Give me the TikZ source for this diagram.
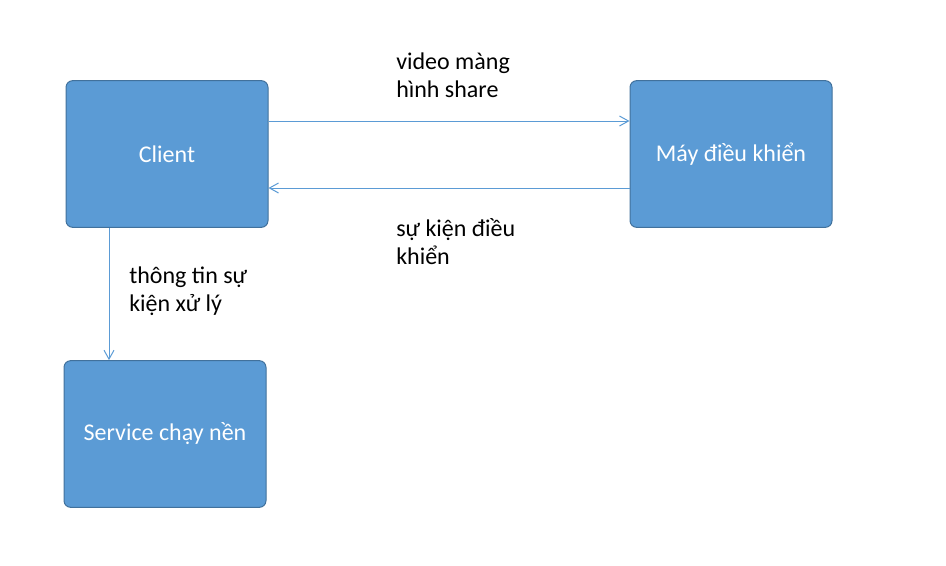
\documentclass[tikz,border=0pt]{standalone}
\usepackage{fontspec}
\setmainfont{Carlito}
\usetikzlibrary{arrows.meta}
\definecolor{boxfill}{HTML}{5B9BD5}
\definecolor{boxedge}{HTML}{41719C}
\definecolor{linkblue}{HTML}{5B9BD5}
\tikzset{
  box/.style={rectangle, rounded corners=5pt, fill=boxfill, draw=boxedge, line width=0.75pt,
    minimum width=151.5pt, minimum height=110pt, text=white, font=\fontsize{18}{21.5}\selectfont},
  flow/.style={draw=linkblue, line width=0.75pt, -{Straight Barb[length=6.75pt,width=7.5pt]}},
  note/.style={anchor=base west, inner sep=0pt, align=left, font=\fontsize{18}{20.5}\selectfont}
}
\begin{document}
\begin{tikzpicture}[x=0.75pt,y=-0.75pt]
\useasboundingbox (0,0) rectangle (946,565);

\node[box] (client) at (167,154) {Client};
\node[box] (may) at (731,154) {Máy điều khiển};
\node[box] (service) at (165,434) {Service chạy nền};

\draw[flow] ([yshift=24.75pt]client.east) -- ([yshift=24.75pt]may.west);
\draw[flow] ([yshift=-25.5pt]may.west) -- ([yshift=-25.5pt]client.east);
\draw[flow] ([xshift=-43.5pt]client.south) -- ([xshift=-43.5pt]client.south |- service.north);

% base anchor sits on the last line
\node[note] (video) at (396,97) {video màng\\hình share};
\node[note] (sukien) at (396,264) {sự kiện điều\\khiển};
\node[note] (thongtin) at (129,311) {thông tin sự\\kiện xử lý};

\end{tikzpicture}
\end{document}
